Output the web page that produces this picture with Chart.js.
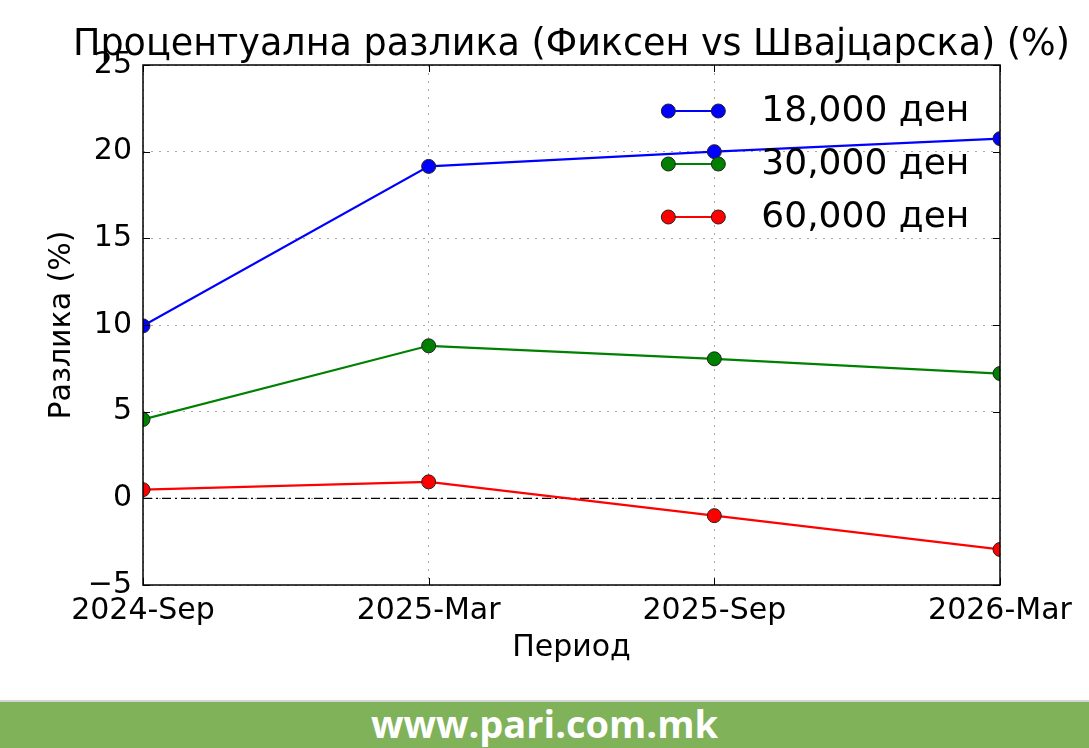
<!DOCTYPE html>
<html>
<head>
<meta charset="utf-8">
<script src="https://cdn.jsdelivr.net/npm/chart.js@4.4.1/dist/chart.umd.min.js"></script>
<style>
	html, body { margin: 0; padding: 0; background: #fff; }
	#wrap { width: 1089px; height: 700px; position: relative; }
	#footer {
		width: 1089px; height: 46px; background: #80b25a;
		border-top: 2px solid #d4d4d4;
		color: #fff; text-align: center;
		font: bold 38px 'Open Sans', sans-serif; line-height: 42px;
	}
</style>
</head>
<body>
<div id="wrap"><canvas id="diff_chart"></canvas></div>
<div id="footer">www.pari.com.mk</div>
<script>
// periods and values
var periods = ['2024-Sep', '2025-Mar', '2025-Sep', '2026-Mar'];
var series18k = [9.95, 19.15, 20.0, 20.75];
var series30k = [4.55, 8.8, 8.05, 7.2];
var series60k = [0.5, 0.95, -1.0, -2.95];
var zeroLine = [0, 0, 0, 0];
var seriesLabels = ['18,000 ден', '30,000 ден', '60,000 ден'];
var yTicks = [-5, 0, 5, 10, 15, 20, 25];

var titleText = 'Процентуална разлика (Фиксен vs Швајцарска) (%)';
var fontFamily = "'DejaVu Sans', sans-serif";

function seriesDataset(label, data, color) {
	return {
		label: label,
		data: data,
		borderColor: color,
		backgroundColor: color,
		borderWidth: 2.2,
		pointRadius: 7,
		pointHoverRadius: 7,
		pointBorderColor: '#222',
		pointBorderWidth: 1,
		pointBackgroundColor: color,
		tension: 0,
		clip: 0
	};
}

// frame, inward ticks, title and matplotlib-like legend
var decorPlugin = {
	id: 'decor',
	afterDraw: function (chart) {
		var ctx = chart.ctx;
		var area = chart.chartArea;
		var yScale = chart.scales.y;
		var xScale = chart.scales.x;
		ctx.save();
		ctx.strokeStyle = '#000';
		ctx.lineWidth = 1.5;
		ctx.strokeRect(area.left, area.top, area.right - area.left, area.bottom - area.top);

		ctx.lineWidth = 1;
		yScale.ticks.forEach(function (t) {
			var y = Math.round(yScale.getPixelForValue(t.value)) + 0.5;
			ctx.beginPath();
			ctx.moveTo(area.left, y); ctx.lineTo(area.left + 7, y);
			ctx.moveTo(area.right, y); ctx.lineTo(area.right - 7, y);
			ctx.stroke();
		});
		xScale.ticks.forEach(function (t, i) {
			var x = Math.round(xScale.getPixelForTick(i)) + 0.5;
			ctx.beginPath();
			ctx.moveTo(x, area.top); ctx.lineTo(x, area.top + 7);
			ctx.moveTo(x, area.bottom); ctx.lineTo(x, area.bottom - 7);
			ctx.stroke();
		});

		// title over the axes
		ctx.fillStyle = '#000';
		ctx.font = '36.5px ' + fontFamily;
		ctx.textAlign = 'center';
		ctx.textBaseline = 'alphabetic';
		ctx.fillText(titleText, (area.left + area.right) / 2, area.top - 10);

		// legend
		var lx = area.left + 0.613 * (area.right - area.left);
		var ly = area.top + 46;
		ctx.font = '36px ' + fontFamily;
		ctx.textAlign = 'left';
		ctx.textBaseline = 'middle';
		for (var i = 0; i < seriesLabels.length; i++) {
			var ds = chart.data.datasets[i];
			var y = ly + i * 53;
			ctx.strokeStyle = ds.borderColor;
			ctx.lineWidth = 2.2;
			ctx.beginPath();
			ctx.moveTo(lx, y); ctx.lineTo(lx + 50, y);
			ctx.stroke();
			[lx, lx + 50].forEach(function (px) {
				ctx.beginPath();
				ctx.arc(px, y, 7, 0, Math.PI * 2);
				ctx.fillStyle = ds.backgroundColor;
				ctx.fill();
				ctx.strokeStyle = '#222';
				ctx.lineWidth = 1;
				ctx.stroke();
			});
			ctx.fillStyle = '#000';
			ctx.fillText(ds.label, lx + 93, y + 1);
		}
		ctx.restore();
	}
};

var ctx = document.getElementById('diff_chart').getContext('2d');
window.diffChart = new Chart(ctx, {
	type: 'line',
	data: {
		labels: periods,
		datasets: [
			seriesDataset(seriesLabels[0], series18k, '#0000ff'),
			seriesDataset(seriesLabels[1], series30k, '#008000'),
			seriesDataset(seriesLabels[2], series60k, '#ff0000'),
			{
				label: 'zero',
				data: zeroLine,
				borderColor: '#000',
				borderWidth: 1.2,
				borderDash: [9, 4, 2, 4],
				pointRadius: 0,
				pointHoverRadius: 0,
				tension: 0
			}
		]
	},
	options: {
		responsive: true,
		maintainAspectRatio: false,
		animation: false,
		layout: {
			padding: { top: 65, right: 89, left: 0, bottom: 0 }
		},
		scales: {
			x: {
				offset: false,
				afterFit: function (scale) { scale.height = 115; },
				grid: {
					color: 'rgba(0,0,0,0.35)',
					lineWidth: 1,
					drawTicks: false
				},
				border: { display: false, dash: [2, 6] },
				ticks: {
					color: '#000',
					padding: 8,
					maxRotation: 0,
					font: { family: fontFamily, size: 30 }
				},
				title: {
					display: true,
					text: 'Период',
					color: '#000',
					padding: { top: 0, bottom: 34 },
					font: { family: fontFamily, size: 30 }
				}
			},
			y: {
				min: -5,
				max: 25,
				afterFit: function (scale) { scale.width = 143; },
				afterBuildTicks: function (scale) {
					scale.ticks = yTicks.map(function (v) { return { value: v }; });
				},
				grid: {
					color: 'rgba(0,0,0,0.35)',
					lineWidth: 1,
					drawTicks: false
				},
				border: { display: false, dash: [2, 6] },
				ticks: {
					color: '#000',
					padding: 11,
					font: { family: fontFamily, size: 30 },
					callback: function (value) {
						return String(value).replace('-', '\u2212');
					}
				},
				title: {
					display: true,
					text: 'Разлика (%)',
					color: '#000',
					padding: { top: 44, bottom: 0 },
					font: { family: fontFamily, size: 30 }
				}
			}
		},
		plugins: {
			legend: { display: false },
			title: { display: false },
			tooltip: { enabled: false }
		}
	},
	plugins: [decorPlugin]
});
</script>
</body>
</html>
